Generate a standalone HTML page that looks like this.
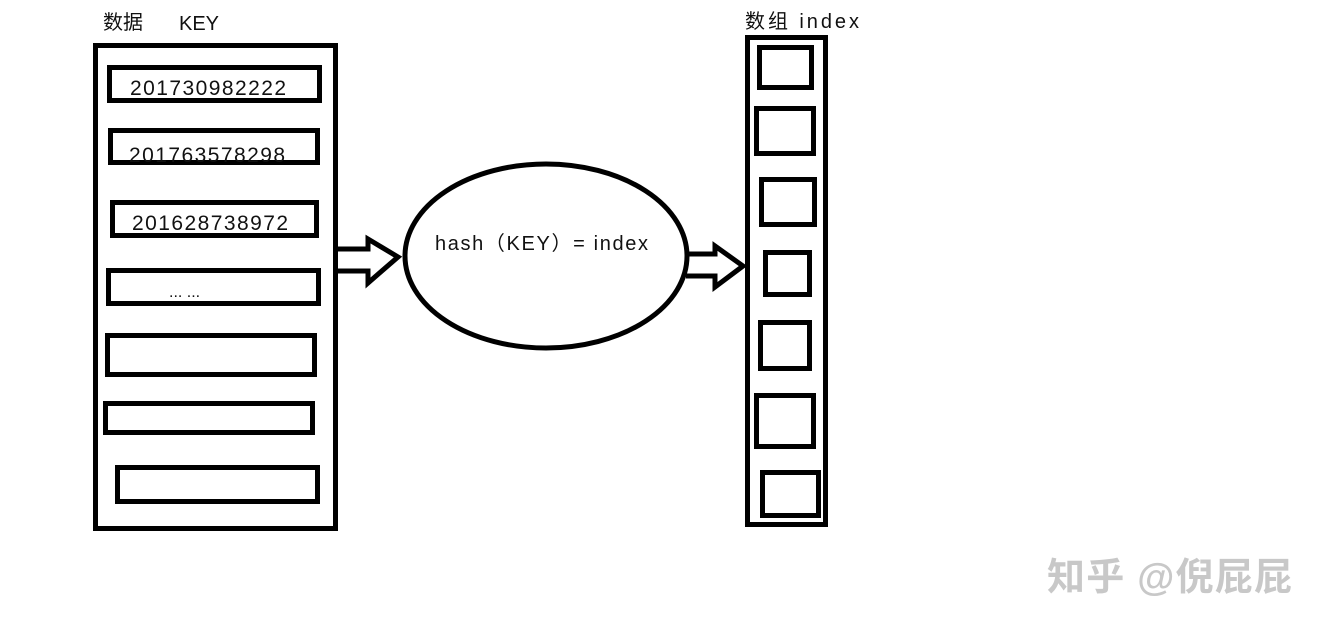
<!DOCTYPE html>
<html><head><meta charset="utf-8"><style>
html,body{margin:0;padding:0;background:#fff;}
svg{display:block;}
text{font-family:"Liberation Sans","Noto Sans CJK SC",sans-serif;fill:#111;}
</style></head><body>
<svg width="1326" height="632" viewBox="0 0 1326 632" xmlns="http://www.w3.org/2000/svg">
<g fill="none" stroke="#000" stroke-width="5">
<rect x="95.5" y="45.5" width="240" height="483"/>
<rect x="109.5" y="67.5" width="210" height="33"/>
<rect x="110.5" y="130.5" width="207" height="32"/>
<rect x="112.5" y="202.5" width="204" height="33"/>
<rect x="108.5" y="270.5" width="210" height="33"/>
<rect x="107.5" y="335.5" width="207" height="39"/>
<rect x="105.5" y="403.5" width="207" height="29"/>
<rect x="117.5" y="467.5" width="200" height="34"/>
<path d="M338 249 L368 249 L368 239 L398 257 L368 283 L368 271 L338 271"/>
<ellipse cx="546" cy="256" rx="141" ry="92"/>
<path d="M686 254 L715 254 L715 246 L743 266 L715 287 L715 276 L686 276"/>
<rect x="747.5" y="37.5" width="78" height="487"/>
<rect x="759.5" y="47.5" width="52" height="40"/>
<rect x="756.5" y="108.5" width="57" height="45"/>
<rect x="761.5" y="179.5" width="53" height="45"/>
<rect x="765.5" y="252.5" width="44" height="42"/>
<rect x="760.5" y="322.5" width="49" height="46"/>
<rect x="756.5" y="395.5" width="57" height="51"/>
<rect x="762.5" y="472.5" width="56" height="43"/>
</g>
<text x="103" y="29" font-size="20">数据</text>
<text x="179" y="30" font-size="20">KEY</text>
<text x="130" y="95" font-size="21" textLength="156">201730982222</text>
<text x="129" y="162" font-size="21" textLength="156">201763578298</text>
<text x="132" y="230" font-size="21" textLength="156">201628738972</text>
<text x="169" y="297" font-size="16">... ...</text>
<text x="435" y="250" font-size="20" textLength="213">hash（KEY）= index</text>
<text x="745" y="28" font-size="20" textLength="114">数组  index</text>
<text x="1047" y="590" font-size="38" textLength="245" style="fill:#c8c8c8;font-weight:bold">知乎 @倪屁屁</text>
</svg>
</body></html>
